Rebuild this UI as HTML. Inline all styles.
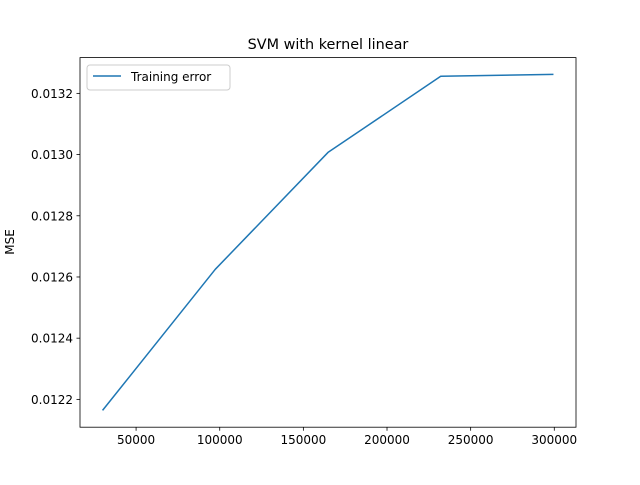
<!DOCTYPE html>
<html><head><meta charset="utf-8"><style>
body{margin:0;background:#fff}
svg text{font-family:"DejaVu Sans","Liberation Sans",sans-serif;fill:#000}
</style></head><body>
<svg id="chart" width="640" height="480" xmlns="http://www.w3.org/2000/svg">
<rect width="640" height="480" fill="#fff"/>
<text x="328" y="49" font-size="14.4" text-anchor="middle">SVM with kernel linear</text>
<text transform="translate(14,242) rotate(-90)" font-size="12" text-anchor="middle">MSE</text>
<g id="ticks"></g>
<polyline id="line" fill="none" stroke="#1f77b4" stroke-width="1.5" stroke-linejoin="round"/>
<rect x="80" y="57.6" width="496" height="369.6" fill="none" stroke="#000" stroke-width="0.8"/>
<g>
<rect x="87" y="65" width="143" height="25" rx="3" fill="#fff" stroke="#ccc" stroke-width="1"/>
<line x1="93" y1="76" x2="121" y2="76" stroke="#1f77b4" stroke-width="1.5"/>
<text x="131" y="81" font-size="12">Training error</text>
</g>
</svg>
<script>
const xValues=[29950,97337,164725,232112,299500];
const errValues=[0.012164,0.012625,0.013007,0.013256,0.013262];
const xTicks=[50000,100000,150000,200000,250000,300000];
const yTicks=[0.0122,0.0124,0.0126,0.0128,0.0130,0.0132];
const L=80,R=576,T=57.6,B=427.2;
const xmn=Math.min(...xValues),xmx=Math.max(...xValues),xm=(xmx-xmn)*0.05;
const ymn=Math.min(...errValues),ymx=Math.max(...errValues),ym=(ymx-ymn)*0.05;
const sx=v=>L+(v-(xmn-xm))/((xmx+xm)-(xmn-xm))*(R-L);
const sy=v=>B-(v-(ymn-ym))/((ymx+ym)-(ymn-ym))*(B-T);
const NS="http://www.w3.org/2000/svg";
const g=document.getElementById('ticks');
function mk(t,a){const e=document.createElementNS(NS,t);for(const k in a)e.setAttribute(k,a[k]);g.appendChild(e);return e;}
xTicks.forEach(v=>{const x=sx(v);
const l=mk('line',{x1:x,x2:x,y1:B,y2:B+3.5,stroke:'#000','stroke-width':0.8});


const t=mk('text',{x:x,y:B+17,'font-size':12,'text-anchor':'middle'});t.textContent=v;

});
yTicks.forEach(v=>{const y=sy(v);
const l=mk('line',{x1:L-3.5,x2:L,y1:y,y2:y,stroke:'#000','stroke-width':0.8});


const t=mk('text',{x:L-7,y:y+4.5,'font-size':12,'text-anchor':'end'});t.textContent=v.toFixed(4);

});
document.getElementById('line').setAttribute('points',xValues.map((v,i)=>sx(v)+','+sy(errValues[i])).join(' '));
</script>
</body></html>
